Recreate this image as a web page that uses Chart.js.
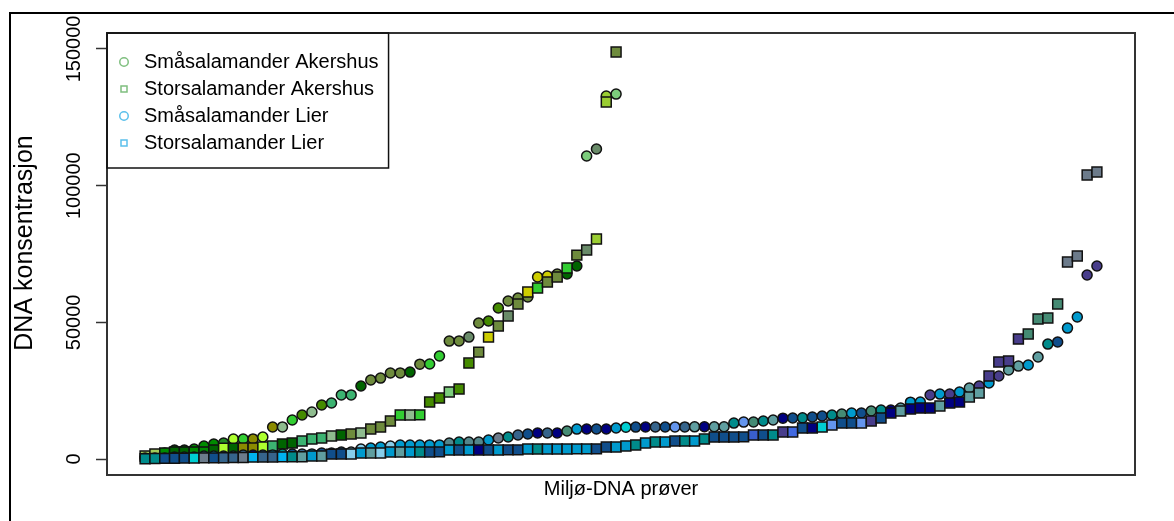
<!DOCTYPE html>
<html><head><meta charset="utf-8">
<script src="https://cdn.jsdelivr.net/npm/chart.js@4.4.1/dist/chart.umd.min.js"></script>
<style>
html,body{margin:0;padding:0;background:#fff;}
#wrap{position:relative;width:1174px;height:521px;overflow:hidden;background:#fff;}
#frame{position:absolute;left:9px;top:12px;width:2000px;height:1000px;border-top:2px solid #000;border-left:2px solid #000;}
canvas{position:absolute;left:0;top:0;}
</style></head><body>
<div id="wrap"><div id="frame"></div><canvas id="c" width="1174" height="521"></canvas></div>
<script>
// ---- data ----
const seriesLabels = ['Småsalamander Akershus', 'Storsalamander Akershus', 'Småsalamander Lier', 'Storsalamander Lier'];
const xTitle = 'Miljø-DNA prøver';
const yTitle = 'DNA konsentrasjon';
const yTickValues = [0, 50000, 100000, 150000];

const smaAkershus = [700, 1100, 2200, 3300, 3300, 3650, 4750, 5500, 5850, 7300,
  7300, 7350, 8050, 11700, 11750, 14250, 16100, 17200, 19750, 20500,
  23400, 23450, 26700, 28900, 29600, 31450, 31500, 31800, 34700, 34750,
  37700, 43150, 43200, 44600, 49750, 50500, 55250, 57800, 58900, 59300,
  66600, 66950, 67650, 67700, 70600, 110850, 113400, 132800, 133500];

const storAkershus = [1100, 1850, 2200, 2550, 2550, 2600, 2600, 3300, 4000, 4000,
  4050, 4050, 4400, 4750, 5500, 5850, 6600, 7300, 7700, 8400,
  8800, 9150, 9500, 11000, 11700, 13900, 16100, 16100, 16150, 20850,
  22300, 24500, 25600, 35100, 39100, 44600, 48650, 52300, 56700, 61100,
  62550, 64750, 66600, 69900, 74600, 76450, 80500, 130600, 148900];

const smaLier = [350, 380, 400, 700, 730, 750, 1080, 1100, 1100, 1120,
  1450, 1460, 1480, 1500, 1800, 1830, 1850, 1870, 2180, 2200,
  2550, 2580, 3650, 4020, 4400, 4750, 5100, 5120, 5140, 5150,
  5160, 5850, 6200, 6220, 6240, 6950, 7680, 8050, 8780, 9150,
  9500, 9510, 9530, 10250, 10950, 10970, 10980, 11000, 11350, 11650,
  11680, 11700, 11700, 11720, 11740, 11750, 11760, 11780, 11800, 11820,
  13150, 13500, 13550, 13900, 14250, 14950, 15000, 15050, 15350, 15750,
  16100, 16450, 16800, 16850, 17550, 17900, 17950, 18650, 20800, 20850,
  23400, 23750, 23800, 24500, 25950, 26700, 27800, 30350, 32550, 34000,
  34400, 37300, 42050, 42800, 47900, 51950, 67300, 70600];

const storLier = [120, 180, 240, 290, 330, 380, 400, 430, 460, 500,
  540, 700, 720, 750, 780, 810, 850, 1080, 1120, 1800,
  1830, 1850, 2180, 2200, 2220, 2540, 2550, 2560, 2570, 2580,
  2600, 3270, 3280, 3290, 3300, 3310, 3320, 3330, 3340, 3640,
  3650, 3660, 3670, 3680, 3690, 3700, 3720, 4380, 4400, 4750,
  5100, 5850, 6200, 6230, 6570, 6580, 6600, 7300, 8030, 8050,
  8060, 8080, 8770, 8780, 8800, 9870, 9900, 11330, 11350, 11700,
  12450, 13150, 13170, 13200, 13900, 15000, 16850, 17550, 18300, 18650,
  18670, 19400, 20500, 20850, 22700, 24150, 30350, 35500, 35850, 43900,
  45750, 51200, 51600, 56700, 72050, 74250, 103900, 105000];

// ---- styles (per-point fill colours) ----
const G1='#6E8B3D', G2='#458B00', DG='#006400', GR='#008B00', LG='#32CD32', GY='#ADFF2F', OL='#8B8B00',
      SG='#8FBC8F', MS='#3CB371', DS='#698B69', Y3='#CDCD00', PG='#7CCD7C', YG='#9ACD32', OG='#A2CD5A';
const smaAkershusColors = [G2, G1, DG, DG, DG, GR, GR, GR, '#228B22', GY,
  LG, OL, GY, OL, SG, LG, G2, SG, G2, MS,
  MS, MS, DG, G1, G1, G1, G1, DG, G1, LG,
  LG, G1, G1, DS, G1, G2, G2, G1, G1, G1,
  Y3, Y3, G1, DG, DG, PG, DS, YG, PG];
const storAkershusColors = [OG, OG, GR, DG, DG, GR, GR, DG, GY, DG,
  OL, OL, GY, MS, DG, DG, MS, MS, MS, SG,
  DG, G1, SG, G1, G1, G1, LG, SG, LG, G2,
  G2, PG, G2, G2, G1, Y3, G1, DS, G1, Y3,
  LG, G1, G1, LG, G1, DS, YG, YG, G1];
const B4='#104E8B', NV='#000080', DC='#008B8B', SK='#009ACD', ST='#36648B', CB='#5F9EA0', C4='#53868B',
      AQ='#458B74', SL='#6C7B8B', DT='#00CED1', CF='#6495ED', PU='#483D8B', LB='#87CEEB', DB='#00B2EE', RB='#4169E1';
const smaLierColors = [B4, ST, SK, NV, DC, B4, ST, SK, B4, DC,
  ST, NV, B4, SK, DC, B4, ST, SK, B4, B4,
  B4, LB, LB, SK, SK, LB, SK, SK, SK, SK,
  SK, C4, DC, C4, C4, SK, SL, DC, ST, B4,
  NV, ST, NV, AQ, SK, NV, B4, NV, SK, DT,
  B4, NV, ST, B4, CF, ST, CB, NV, CB, CB,
  DC, CF, AQ, DC, CB, NV, B4, DC, B4, B4,
  DC, AQ, SK, B4, AQ, DC, NV, CB, SK, SK,
  PU, SK, PU, SK, CB, PU, SK, PU, CB, CB,
  SK, CB, DC, B4, SK, SK, PU, PU];
const storLierColors = [DC, DC, B4, B4, B4, DT, SL, B4, ST, ST,
  SL, DB, ST, ST, DB, DC, CB, SK, CB, B4,
  B4, LB, SK, CB, LB, SK, CB, SK, DC, B4,
  B4, SK, B4, SK, NV, B4, SK, B4, B4, SK,
  DC, SK, SK, SK, SK, SK, B4, B4, SK, SK,
  DC, SK, DC, SK, B4, DC, SK, DC, B4, B4,
  B4, B4, '#3A5FCD', B4, DC, PU, RB, B4, NV, DT,
  CF, B4, B4, CF, PU, B4, NV, CB, NV, NV,
  NV, CB, NV, NV, CB, CB, PU, PU, PU, PU,
  AQ, AQ, AQ, AQ, SL, SL, SL, SL];
const legendColors = ['#7FBF7F', '#7FBF7F', '#5BC0EB', '#5BC0EB'];

const FONT = '"Liberation Sans", Arial, Helvetica, sans-serif';
Chart.defaults.font.family = FONT;
Chart.defaults.color = '#000';

const toPoints = arr => arr.map((v, i) => ({x: i + 1, y: v}));
const mk = (label, values, colors, style, radius, order) => ({
  label, data: toPoints(values), pointStyle: style, pointRadius: radius, pointHoverRadius: radius,
  pointBackgroundColor: colors, pointBorderColor: '#111', pointBorderWidth: 1.5, showLine: false, order
});

const LEGEND_SHIFT = 12;
const Y_TITLE_SHIFT = -11;
function placeLegend(chart) {
  const lg = chart.legend;
  if (!lg) return;
  const h = lg.height;
  lg.top = chart.chartArea.top + LEGEND_SHIFT;
  lg.left = chart.chartArea.left;
  lg.bottom = lg.top + h;
}
function patchYTitle(chart) {
  const s = chart.scales.y;
  if (!s || s._titlePatched) return;
  const orig = s.drawTitle.bind(s);
  s.drawTitle = function() {
    const t = this.top, b = this.bottom;
    this.top = t + Y_TITLE_SHIFT; this.bottom = b + Y_TITLE_SHIFT;
    orig();
    this.top = t; this.bottom = b;
  };
  s._titlePatched = true;
}
const boxPlugin = {
  id: 'rbox',
  afterLayout(chart) { placeLegend(chart); patchYTitle(chart); },
  beforeDraw(chart) { placeLegend(chart); patchYTitle(chart); },
  afterDraw(chart) {
    const {ctx, chartArea: a} = chart;
    ctx.save();
    ctx.strokeStyle = '#333';
    ctx.lineWidth = 2;
    ctx.strokeRect(a.left, a.top, a.right - a.left, a.bottom - a.top);
    const lg = chart.legend;
    if (lg && lg.legendHitBoxes && lg.legendHitBoxes.length) {
      const pad = lg.options.labels.padding;
      const fs = lg.options.labels.font.size;
      let right = 0;
      lg.legendHitBoxes.forEach(h => { right = Math.max(right, h.left + h.width); });
      const n = lg.legendHitBoxes.length;
      const lastTop = lg.top + pad + (n - 1) * (fs + pad);
      const bottom = lastTop + fs + 15;
      ctx.strokeStyle = '#111';
      ctx.lineWidth = 1.5;
      ctx.strokeRect(a.left, a.top, right + 10 - a.left, bottom - a.top);
    }
    ctx.restore();
  }
};

new Chart(document.getElementById('c'), {
  type: 'scatter',
  data: {
    datasets: [
      mk(seriesLabels[0], smaAkershus, smaAkershusColors, 'circle', 5, 3),
      mk(seriesLabels[1], storAkershus, storAkershusColors, 'rect', 7, 2),
      mk(seriesLabels[2], smaLier, smaLierColors, 'circle', 5, 1),
      mk(seriesLabels[3], storLier, storLierColors, 'rect', 7, 0)
    ]
  },
  options: {
    responsive: false,
    animation: false,
    events: [],
    layout: {padding: {top: 33, right: 39, left: 0, bottom: 0}},
    scales: {
      x: {
        type: 'linear', min: -2.88, max: 101.88,
        ticks: {display: false},
        grid: {display: false, drawTicks: false},
        border: {display: false},
        title: {display: true, text: xTitle, color: '#000', font: {size: 20, family: FONT}, padding: {top: 0, bottom: 20}},
        afterFit: s => { s.height = 46; }
      },
      y: {
        type: 'linear', min: -5850, max: 155850,
        afterBuildTicks: s => { s.ticks = yTickValues.map(v => ({value: v})); },
        ticks: {
          color: '#000', font: {size: 20, family: FONT},
          minRotation: 90, maxRotation: 90, crossAlign: 'center', padding: -12,
          callback: v => String(v)
        },
        grid: {display: true, drawOnChartArea: false, drawTicks: true, tickLength: 11, tickColor: '#333', tickWidth: 1.5},
        border: {display: false},
        title: {display: true, text: yTitle, color: '#000', font: {size: 25, family: FONT}, padding: {top: 10, bottom: 0}},
        afterFit: s => { s.width = 107; }
      }
    },
    plugins: {
      tooltip: {enabled: false},
      legend: {
        position: 'chartArea', align: 'start',
        labels: {
          usePointStyle: true, boxWidth: 20, boxHeight: 6, padding: 7,
          color: '#000', font: {size: 20, family: FONT},
          generateLabels: chart => chart.data.datasets.map((ds, i) => ({
            text: ds.label, fillStyle: 'rgba(0,0,0,0)', strokeStyle: legendColors[i],
            lineWidth: 1.5, pointStyle: ds.pointStyle, hidden: false, datasetIndex: i, fontColor: '#000'
          }))
        }
      }
    }
  },
  plugins: [boxPlugin]
});
</script></body></html>
